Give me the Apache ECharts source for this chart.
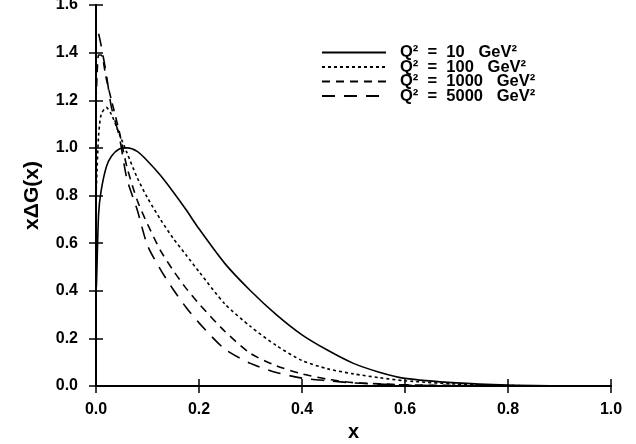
<!DOCTYPE html>
<html>
<head>
<meta charset="utf-8">
<script src="https://cdn.jsdelivr.net/npm/echarts@6/dist/echarts.min.js"></script>
<style>html,body{margin:0;padding:0;background:#fff}#c{width:636px;height:444px}</style>
</head>
<body>
<div id="c"></div>
<script>
const xs    = [0, 0.001, 0.005, 0.01, 0.02, 0.03, 0.045, 0.06, 0.08, 0.1, 0.125, 0.15, 0.175, 0.2, 0.25, 0.3, 0.35, 0.4, 0.45, 0.5, 0.55, 0.6, 0.7, 0.8, 0.9, 1.0];
const q10   = [0.40, 0.43, 0.72, 0.82, 0.92, 0.965, 0.995, 1.0, 0.985, 0.945, 0.885, 0.815, 0.74, 0.66, 0.515, 0.40, 0.30, 0.215, 0.15, 0.095, 0.058, 0.032, 0.013, 0.004, 0.001, 0];
const q100  = [0.80, 0.85, 1.05, 1.14, 1.17, 1.14, 1.06, 0.98, 0.875, 0.79, 0.70, 0.62, 0.55, 0.48, 0.345, 0.25, 0.17, 0.107, 0.072, 0.051, 0.035, 0.022, 0.008, 0.002, 0.0005, 0];
const q1000 = [1.20, 1.25, 1.39, 1.39, 1.29, 1.20, 1.07, 0.92, 0.78, 0.68, 0.57, 0.485, 0.41, 0.345, 0.23, 0.137, 0.085, 0.051, 0.028, 0.014, 0.009, 0.005, 0.002, 0.001, 0, 0];
const q5000 = [1.45, 1.51, 1.48, 1.43, 1.31, 1.17, 1.05, 0.87, 0.74, 0.59, 0.49, 0.405, 0.33, 0.265, 0.155, 0.095, 0.057, 0.033, 0.022, 0.013, 0.008, 0.004, 0.001, 0, 0, 0];
const seriesNames = ['Q\u00b2  =  10   GeV\u00b2', 'Q\u00b2  =  100   GeV\u00b2', 'Q\u00b2  =  1000   GeV\u00b2', 'Q\u00b2  =  5000   GeV\u00b2'];
const xTicks = ['0.0', '0.2', '0.4', '0.6', '0.8', '1.0'];
const yTicks = ['0.0', '0.2', '0.4', '0.6', '0.8', '1.0', '1.2', '1.4', '1.6'];

const FONT = 'Liberation Sans';
const dashes = ['solid', [3, 3], [8, 6], [13, 9]];
const allY = [q10, q100, q1000, q5000];

const chart = echarts.init(document.getElementById('c'), null, {renderer: 'canvas'});
const axisCommon = {
  axisLine: {show: true, lineStyle: {color: '#000', width: 2}},
  axisTick: {show: true, inside: true, length: 7, lineStyle: {color: '#000', width: 1.5}},
  splitLine: {show: false}
};
chart.setOption({
  animation: false,
  backgroundColor: '#fff',
  grid: {left: 96, right: 25, top: 5, bottom: 58, containLabel: false, outerBoundsMode: 'none'},
  legend: {
    orient: 'vertical', left: 316, top: 39, itemGap: -2.5,
    itemWidth: 64, itemHeight: 14,
    itemStyle: {opacity: 0},
    data: seriesNames,
    textStyle: {
      fontFamily: FONT, fontSize: 16.5, fontWeight: 'bold', color: '#000', padding: [0, 0, 0, 9], lineHeight: 14
    }
  },
  xAxis: [
    Object.assign({}, axisCommon, {
      type: 'value', min: 0, max: 1, interval: 0.2, position: 'bottom',
      name: 'x', nameLocation: 'middle', nameGap: 25,
      nameTextStyle: {fontFamily: FONT, fontSize: 20, fontWeight: 'bold', color: '#000'},
      axisLabel: {margin: 16, fontFamily: FONT, fontSize: 16, fontWeight: 'bold', color: '#000',
        formatter: v => xTicks[Math.round(v / 0.2)]}
    }),
    Object.assign({}, axisCommon, {
      type: 'value', min: 0, max: 1, interval: 0.2, position: 'top', axisLabel: {show: false}
    })
  ],
  yAxis: [
    Object.assign({}, axisCommon, {
      type: 'value', min: 0, max: 1.6, interval: 0.2, position: 'left',
      name: 'x\u0394G(x)', nameLocation: 'middle', nameGap: 53, nameRotate: 90,
      nameTextStyle: {fontFamily: FONT, fontSize: 21, fontWeight: 'bold', color: '#000'},
      axisLabel: {margin: 18, fontFamily: FONT, fontSize: 16, fontWeight: 'bold', color: '#000',
        formatter: v => yTicks[Math.round(v / 0.2)]}
    }),
    Object.assign({}, axisCommon, {
      type: 'value', min: 0, max: 1.6, interval: 0.2, position: 'right', axisLabel: {show: false}
    })
  ],
  series: seriesNames.map((n, i) => ({
    name: n,
    type: 'line',
    smooth: 0.25,
    symbol: 'none',
    xAxisIndex: 0, yAxisIndex: 0,
    data: xs.map((x, j) => [x, allY[i][j]]),
    lineStyle: {color: '#000', width: 1.6, type: dashes[i]},
    itemStyle: {color: '#000'}
  }))
});
</script>
</body>
</html>
